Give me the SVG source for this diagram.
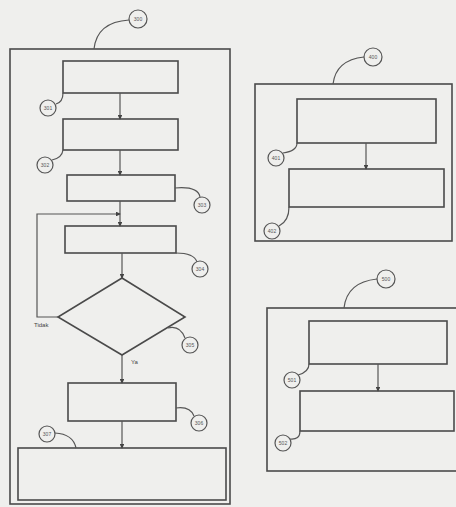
<svg xmlns="http://www.w3.org/2000/svg" width="456" height="507" viewBox="0 0 456 507">
<style>
.b{fill:none;stroke:#4a4a4a;stroke-width:1.6}
.l{fill:none;stroke:#555;stroke-width:1.2}
.c{fill:#efefed;stroke:#555;stroke-width:1.2}
.t{font-family:"Liberation Sans",Arial,sans-serif;font-size:5px;fill:#555;text-anchor:middle}
.s{font-family:"Liberation Sans",Arial,sans-serif;font-size:6px;fill:#444}
</style>
<defs>
<marker id="a" viewBox="0 0 6 6" refX="5" refY="3" markerWidth="4" markerHeight="4" orient="auto">
<path d="M0,0L6,3L0,6z" fill="#444"/>
</marker>
</defs>
<rect width="456" height="507" fill="#efefed"/>
<g id="n300"><rect class="b" x="10" y="49" width="220" height="455"/><path class="l" d="M129,20 Q97,22 94,49"/><circle class="c" cx="138" cy="19" r="9"/><text class="t" x="138" y="21">300</text></g>
<g id="n301"><rect class="b" x="63" y="61" width="115" height="32"/><path class="l" d="M63,93 Q63,102 56,104"/><circle class="c" cx="48" cy="108" r="8"/><text class="t" x="48" y="110">301</text></g>
<g id="n302"><rect class="b" x="63" y="119" width="115" height="31"/><path class="l" d="M63,150 Q62,158 52,160"/><circle class="c" cx="45" cy="165" r="8"/><text class="t" x="45" y="167">302</text></g>
<g id="n303"><rect class="b" x="67" y="175" width="108" height="26"/><path class="l" d="M175,188 Q198,186 200,197"/><circle class="c" cx="202" cy="205" r="8"/><text class="t" x="202" y="207">303</text></g>
<g id="n304"><rect class="b" x="65" y="226" width="111" height="27"/><path class="l" d="M176,253 Q194,253 197,262"/><circle class="c" cx="200" cy="269" r="8"/><text class="t" x="200" y="271">304</text></g>
<g id="n305"><path class="b" d="M122,278 L185,317 L122,355 L58,317 Z"/><path class="l" d="M168,328 Q180,325 185,338"/><circle class="c" cx="190" cy="345" r="8"/><text class="t" x="190" y="347">305</text></g>
<g id="n306"><rect class="b" x="68" y="383" width="108" height="38"/><path class="l" d="M176,408 Q190,406 194,416"/><circle class="c" cx="199" cy="423" r="8"/><text class="t" x="199" y="425">306</text></g>
<g id="n307"><rect class="b" x="18" y="448" width="208" height="52"/><path class="l" d="M76,448 Q73,434 55,433"/><circle class="c" cx="47" cy="434" r="8"/><text class="t" x="47" y="436">307</text></g>
<g id="n400"><rect class="b" x="255" y="84" width="197" height="157"/><path class="l" d="M364,57 Q336,60 333,84"/><circle class="c" cx="373" cy="57" r="9"/><text class="t" x="373" y="59">400</text></g>
<g id="n401"><rect class="b" x="297" y="99" width="139" height="44"/><path class="l" d="M297,143 Q297,151 283,153"/><circle class="c" cx="276" cy="158" r="8"/><text class="t" x="276" y="160">401</text></g>
<g id="n402"><rect class="b" x="289" y="169" width="155" height="38"/><path class="l" d="M289,207 Q289,221 279,226"/><circle class="c" cx="272" cy="231" r="8"/><text class="t" x="272" y="233">402</text></g>
<g id="n500"><rect class="b" x="267" y="308" width="200" height="163"/><path class="l" d="M377,279 Q347,282 344,308"/><circle class="c" cx="386" cy="279" r="9"/><text class="t" x="386" y="281">500</text></g>
<g id="n501"><rect class="b" x="309" y="321" width="138" height="43"/><path class="l" d="M309,364 Q309,372 298,375"/><circle class="c" cx="292" cy="380" r="8"/><text class="t" x="292" y="382">501</text></g>
<g id="n502"><rect class="b" x="300" y="391" width="154" height="40"/><path class="l" d="M300,431 Q300,440 290,439"/><circle class="c" cx="283" cy="443" r="8"/><text class="t" x="283" y="445">502</text></g>
<g id="connectors">
<line class="l" x1="120" y1="93" x2="120" y2="119" marker-end="url(#a)"/>
<line class="l" x1="120" y1="150" x2="120" y2="175" marker-end="url(#a)"/>
<line class="l" x1="120" y1="201" x2="120" y2="226" marker-end="url(#a)"/>
<path class="l" d="M58,317 L37,317 L37,214 L120,214" marker-end="url(#a)"/>
<line class="l" x1="122" y1="253" x2="122" y2="278" marker-end="url(#a)"/>
<line class="l" x1="122" y1="355" x2="122" y2="383" marker-end="url(#a)"/>
<line class="l" x1="122" y1="421" x2="122" y2="448" marker-end="url(#a)"/>
<line class="l" x1="366" y1="143" x2="366" y2="169" marker-end="url(#a)"/>
<line class="l" x1="378" y1="364" x2="378" y2="391" marker-end="url(#a)"/>
<text class="s" x="34" y="327">Tidak</text>
<text class="s" x="131" y="364">Ya</text>
</g>
</svg>
